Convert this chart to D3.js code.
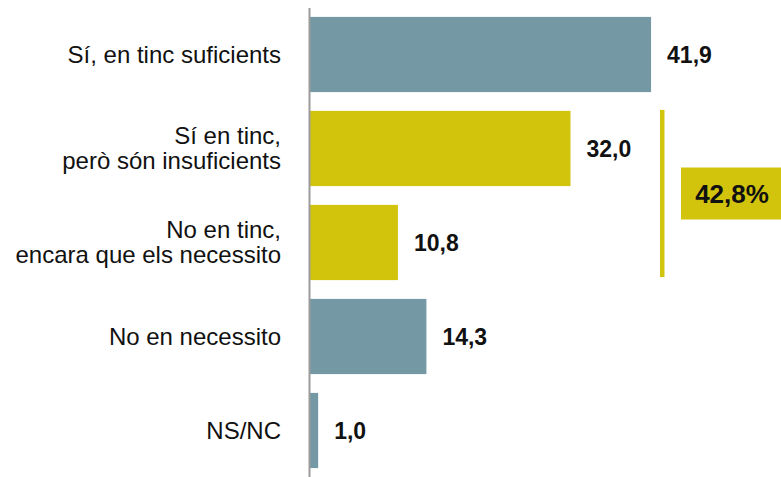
<!DOCTYPE html>
<html>
<head>
<meta charset="utf-8">
<script src="https://cdn.jsdelivr.net/npm/d3@7"></script>
<style>
  body { margin: 0; background: #fff; }
  text { font-family: "Liberation Sans", Arial, sans-serif; }
</style>
</head>
<body>
<svg id="chart" width="781" height="477"></svg>
<script>
var WIDTH = 781;
var HEIGHT = 477;

var categories = [
    ['Sí, en tinc suficients'],
    ['Sí en tinc,', 'però són insuficients'],
    ['No en tinc,', 'encara que els necessito'],
    ['No en necessito'],
    ['NS/NC']
];
var values = [41.9, 32.0, 10.8, 14.3, 1.0];
var groups = ['other', 'need', 'need', 'other', 'other'];
var needTotal = '42,8%';

var colors = { other: '#7599a4', need: '#d2c40c' };

var svg = d3.select('#chart');

var yScale = d3.scaleBand()
    .domain(d3.range(values.length))
    .range([7.5, 477.5])
    .paddingInner(0.2)
    .paddingOuter(0.1);

var xScale = d3.scaleLinear()
    .domain([0, 50])
    .range([310, 717]);

var fmt = function(v){ return d3.format('.1f')(v).replace('.', ','); };

// bars
svg.append('g').selectAll('rect')
    .data(values)
    .enter()
    .append('rect')
    .attr('x', xScale(0))
    .attr('y', function(d, i){ return yScale(i); })
    .attr('width', function(d){ return xScale(d) - xScale(0); })
    .attr('height', yScale.bandwidth())
    .attr('fill', function(d, i){ return colors[groups[i]]; });

// axis line
svg.append('line')
    .attr('x1', xScale(0) - 0.5).attr('x2', xScale(0) - 0.5)
    .attr('y1', 8).attr('y2', HEIGHT)
    .attr('stroke', '#9b9b9b')
    .attr('stroke-width', 2);

// category labels
var labels = svg.append('g').selectAll('text')
    .data(categories)
    .enter()
    .append('text')
    .attr('text-anchor', 'end')
    .attr('font-size', 24)
    .attr('fill', '#111');

labels.each(function(lines, i){
    var cy = yScale(i) + yScale.bandwidth() / 2;
    var t = d3.select(this);
    lines.forEach(function(line, j){
        t.append('tspan')
            .attr('x', 281)
            .attr('y', cy + (j - (lines.length - 1) / 2) * 25)
            .attr('dy', '0.35em')
            .text(line);
    });
});

// value labels
svg.append('g').selectAll('text')
    .data(values)
    .enter()
    .append('text')
    .attr('x', function(d){ return xScale(d) + 16; })
    .attr('y', function(d, i){ return yScale(i) + yScale.bandwidth() / 2; })
    .attr('dy', '0.35em')
    .attr('font-size', 23)
    .attr('font-weight', 'bold')
    .attr('fill', '#111')
    .text(fmt);

// bracket for "need" group
var needIdx = groups.map(function(g, i){ return g === 'need' ? i : -1; }).filter(function(i){ return i >= 0; });
var bracketTop = yScale(needIdx[0]) - 1;
var bracketBottom = yScale(needIdx[needIdx.length - 1]) + yScale.bandwidth() - 3;
svg.append('rect')
    .attr('x', 660).attr('y', bracketTop)
    .attr('width', 4.5).attr('height', bracketBottom - bracketTop)
    .attr('fill', colors.need);

var mid = (bracketTop + bracketBottom) / 2;
svg.append('rect')
    .attr('x', 681).attr('y', mid - 26)
    .attr('width', 100).attr('height', 52)
    .attr('fill', colors.need);
svg.append('text')
    .attr('x', 732).attr('y', mid)
    .attr('dy', '0.35em')
    .attr('text-anchor', 'middle')
    .attr('font-size', 26)
    .attr('font-weight', 'bold')
    .attr('fill', '#111')
    .text(needTotal);
</script>
</body>
</html>
